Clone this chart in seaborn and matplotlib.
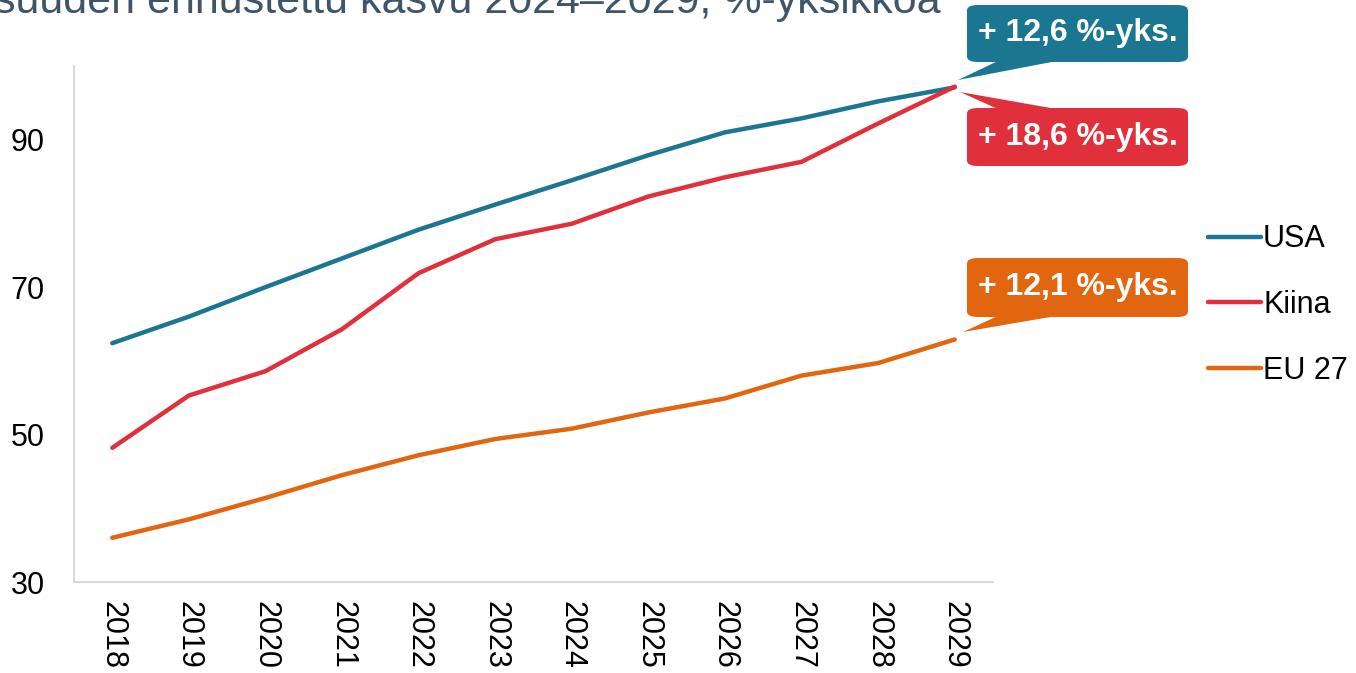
import matplotlib
matplotlib.use('Agg')
import matplotlib.pyplot as plt
from matplotlib.patches import FancyBboxPatch, Polygon
import seaborn as sns
import pandas as pd

# Data
years = [2018, 2019, 2020, 2021, 2022, 2023, 2024, 2025, 2026, 2027, 2028, 2029]
usa = [62.4, 66.0, 70.0, 73.9, 77.8, 81.2, 84.5, 87.9, 91.0, 92.9, 95.2, 97.1]
kiina = [48.2, 55.3, 58.6, 64.3, 71.9, 76.5, 78.6, 82.3, 84.9, 87.0, 92.2, 97.2]
eu27 = [36.0, 38.5, 41.4, 44.5, 47.2, 49.4, 50.8, 53.0, 54.9, 58.0, 59.7, 62.9]
series_names = ['USA', 'Kiina', 'EU 27']
growth_labels = ['+ 12,6 %-yks.', '+ 18,6 %-yks.', '+ 12,1 %-yks.']
y_ticks = [30, 50, 70, 90]
title = 'suuden ennustettu kasvu 2024\u20132029, %-yksikköä'

colors = ['#1b7691', '#e0303b', '#e2650f']

df = pd.DataFrame({
    'x': list(range(len(years))) * 3,
    'arvo': usa + kiina + eu27,
    'sarja': [n for n in series_names for _ in years],
})

sns.set_style("white")
plt.rcParams['font.family'] = ['Liberation Sans', 'DejaVu Sans']
plt.rcParams['text.color'] = 'black'
plt.rcParams['xtick.color'] = 'black'
plt.rcParams['ytick.color'] = 'black'

W, H = 1356, 673
fig = plt.figure(figsize=(W / 100, H / 100), dpi=100)
ax = fig.add_axes([74 / W, 1 - 582 / H, (993 - 74) / W, (582 - 66) / H])

sns.lineplot(data=df, x='x', y='arvo', hue='sarja', hue_order=series_names,
             palette=colors, linewidth=3.2, ax=ax, legend=True)

ax.set_xlim(-0.5, len(years) - 0.5)
ax.set_ylim(30, 100)
ax.set_yticks(y_ticks)
ax.set_yticklabels([str(t) for t in y_ticks], fontsize=22)
ax.set_xticks([i - 0.5 for i in range(len(years) + 1)])
ax.set_xticklabels([])
ax.set_xticks(range(len(years)), minor=True)
ax.set_xticklabels([str(y) for y in years], minor=True, rotation=270, fontsize=22)
ax.tick_params(axis='x', which='major', length=9, width=1.5, color='#d9d9d9', direction='out')
ax.tick_params(axis='x', which='minor', length=0, pad=14)
ax.tick_params(axis='y', length=9, width=1.5, color='#d9d9d9', direction='out', pad=12)
ax.set_xlabel('')
ax.set_ylabel('')
for s in ['top', 'right']:
    ax.spines[s].set_visible(False)
for s in ['left', 'bottom']:
    ax.spines[s].set_color('#d9d9d9')
    ax.spines[s].set_linewidth(1.5)

leg = ax.legend(loc='center left', bbox_to_anchor=((1208 - 74) / 919, (582 - 305) / 516),
                frameon=False, fontsize=22, handlelength=1.75, handletextpad=0.05,
                labelspacing=1.17, borderaxespad=0, borderpad=0)
for line in leg.get_lines():
    line.set_linewidth(3.2)

fig.text(-6 / W, 1 - 13 / H, title, fontsize=31, color='#3e5667', va='baseline', ha='left')

# callout boxes (pixel geometry)
def px(x, y):
    return (x / W, 1 - y / H)

boxes = [
    (967, 5, 62, [(1000, 60), (1062, 60), (958, 80)]),
    (967, 108, 166, [(1000, 110), (1062, 110), (960, 92)]),
    (967, 258, 317, [(1000, 315), (1062, 315), (963, 332)]),
]
for (x0, y0, y1, tri), lab, c in zip(boxes, growth_labels, colors):
    x1 = 1188
    bx, by = px(x0, y1)
    fig.patches.append(FancyBboxPatch((bx, by), (x1 - x0) / W, (y1 - y0) / H,
                                      boxstyle='round,pad=0,rounding_size=0.008',
                                      transform=fig.transFigure, facecolor=c,
                                      edgecolor='none', zorder=5))
    fig.patches.append(Polygon([px(*p) for p in tri], closed=True, transform=fig.transFigure,
                               facecolor=c, edgecolor='none', zorder=5))
    cx, cy = px((x0 + x1) / 2, (y0 + y1) / 2)
    fig.text(cx, cy, lab, color='white', fontsize=23, fontweight='bold',
             ha='center', va='center', zorder=6)

fig.savefig('out.png', dpi=100)
